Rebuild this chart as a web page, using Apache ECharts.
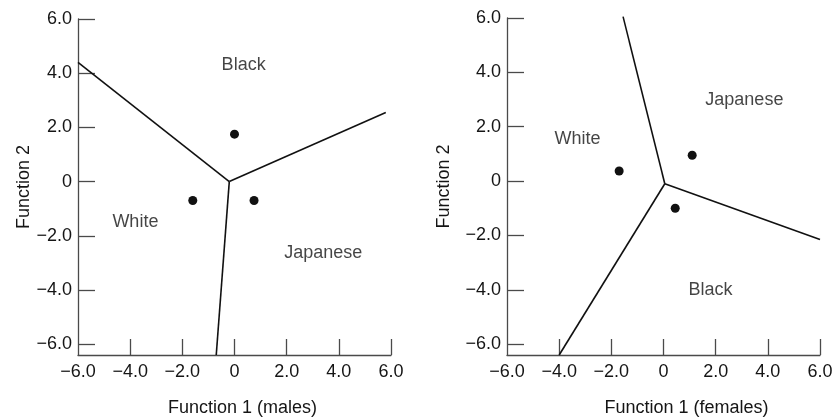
<!DOCTYPE html>
<html><head><meta charset="utf-8">
<script src="https://cdn.jsdelivr.net/npm/echarts@6/dist/echarts.min.js"></script>
<style>html,body{margin:0;padding:0;background:#fff}#c{width:833px;height:419px}</style>
</head><body><div id="c"></div>
<script>
// tick values
const xTicks = [-6, -4, -2, 0, 2, 4, 6];
const yTicks = [-6, -4, -2, 0, 2, 4, 6];
// males: group centroids
const malePoints = [[0.0, 1.75], [-1.6, -0.7], [0.75, -0.7]];
// males: boundary lines (each from the centre outward)
const maleLineA = [[-6.0, 4.4], [-0.2, 0.0]];
const maleLineB = [[-0.2, 0.0], [5.8, 2.55]];
const maleLineC = [[-0.2, 0.0], [-0.7, -6.4]];
const maleLabels = [['Black', 0.35, 4.3], ['White', -3.8, -1.5], ['Japanese', 3.4, -2.65]];
// females
const femalePoints = [[-1.7, 0.37], [1.1, 0.95], [0.45, -1.0]];
const femaleLineA = [[-1.55, 6.05], [0.05, -0.1]];
const femaleLineB = [[0.05, -0.1], [6.0, -2.15]];
const femaleLineC = [[0.05, -0.1], [-4.0, -6.4]];
const femaleLabels = [['Japanese', 3.1, 3.0], ['White', -3.3, 1.55], ['Black', 1.8, -4.0]];

const FONT = 'Liberation Sans, Arial, sans-serif';
const TXT = '#151515';
const fmt = v => Math.abs(v) < 1e-9 ? '0' : v.toFixed(1).replace('-', '\u2212');
const axisLineStyle = {color: '#4a4a4a', width: 1.3};

function xAxis(idx, name, padLeft) {
  return {
    type: 'value', gridIndex: idx, min: -6, max: 6,
    name: name, nameLocation: 'middle', nameGap: 44,
    nameTextStyle: {fontFamily: FONT, fontSize: 18, color: TXT, padding: [0, 0, 0, padLeft]},
    axisLine: {show: true, onZero: false, lineStyle: axisLineStyle},
    axisTick: {show: true, inside: true, length: 16, lineStyle: axisLineStyle, customValues: xTicks.filter(v => v !== -6)},
    axisLabel: {fontFamily: FONT, fontSize: 18, color: TXT, margin: 8, formatter: fmt, customValues: xTicks, showMinLabel: true, showMaxLabel: true},
    splitLine: {show: false}
  };
}
function yAxis(idx, gap) {
  return {
    type: 'value', gridIndex: idx, min: -6.4, max: 6,
    name: 'Function 2', nameLocation: 'middle', nameGap: gap, nameRotate: 90,
    nameTextStyle: {fontFamily: FONT, fontSize: 18, color: TXT},
    axisLine: {show: true, onZero: false, lineStyle: axisLineStyle},
    axisTick: {show: true, inside: true, length: 17, lineStyle: axisLineStyle, customValues: yTicks},
    axisLabel: {fontFamily: FONT, fontSize: 18, color: TXT, margin: 6, formatter: fmt, customValues: yTicks, showMinLabel: true, showMaxLabel: true},
    splitLine: {show: false}
  };
}
function lineSeries(idx, data) {
  return {type: 'line', xAxisIndex: idx, yAxisIndex: idx, data: data, showSymbol: false, symbol: 'none',
    lineStyle: {color: '#111', width: 1.6}, clip: false, silent: true, z: 3};
}
function dotSeries(idx, data) {
  return {type: 'scatter', xAxisIndex: idx, yAxisIndex: idx, data: data, symbolSize: 9,
    itemStyle: {color: '#111', opacity: 1}, silent: true, z: 4};
}
function labelSeries(idx, labels) {
  return {type: 'scatter', xAxisIndex: idx, yAxisIndex: idx, symbolSize: 1,
    itemStyle: {color: 'rgba(0,0,0,0)'}, silent: true, z: 5,
    data: labels.map(l => ({name: l[0], value: [l[1], l[2]]})),
    label: {show: true, position: 'inside', formatter: p => p.name, fontFamily: FONT, fontSize: 18, color: TXT}};
}

const chart = echarts.init(document.getElementById('c'), null, {renderer: 'canvas'});
chart.setOption({
  animation: false,
  backgroundColor: '#fff',
  grid: [
    {left: 78, right: 442, top: 19, bottom: 64, containLabel: false, outerBoundsMode: 'none'},
    {left: 507, right: 13, top: 18, bottom: 64, containLabel: false, outerBoundsMode: 'none'}
  ],
  xAxis: [xAxis(0, 'Function 1 (males)', 16), xAxis(1, 'Function 1 (females)', 46)],
  yAxis: [yAxis(0, 45), yAxis(1, 54)],
  series: [
    lineSeries(0, maleLineA), lineSeries(0, maleLineB), lineSeries(0, maleLineC),
    dotSeries(0, malePoints), labelSeries(0, maleLabels),
    lineSeries(1, femaleLineA), lineSeries(1, femaleLineB), lineSeries(1, femaleLineC),
    dotSeries(1, femalePoints), labelSeries(1, femaleLabels)
  ]
});
</script></body></html>
